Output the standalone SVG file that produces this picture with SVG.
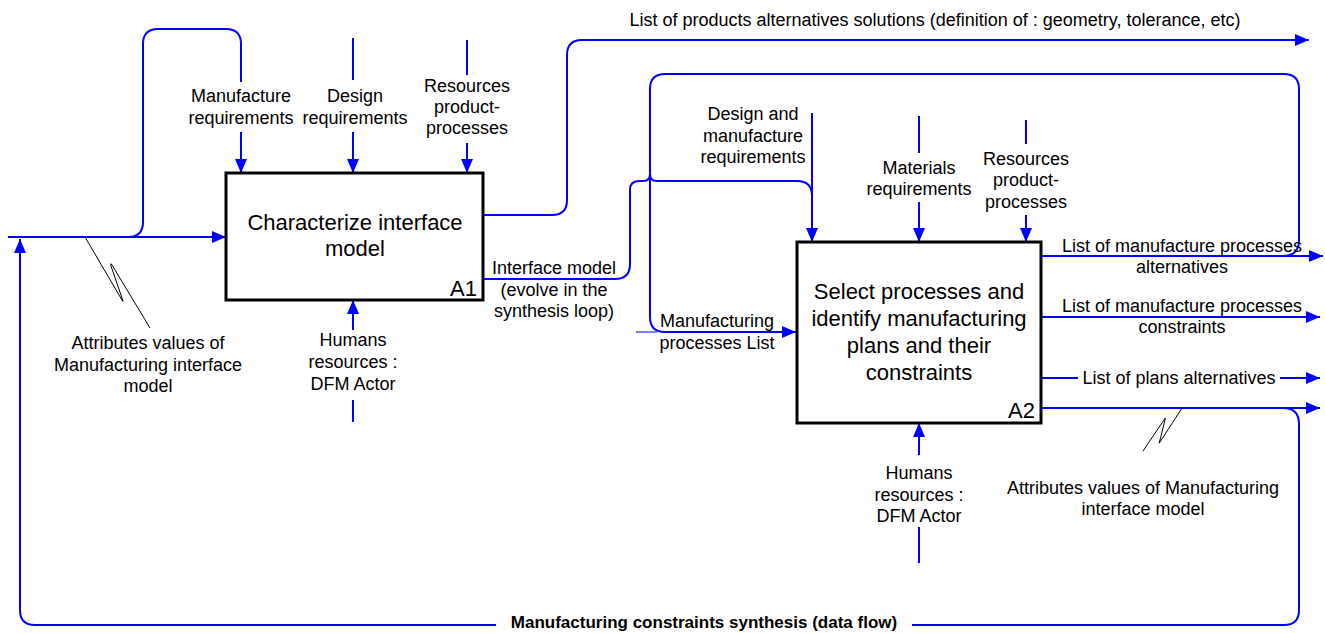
<svg xmlns="http://www.w3.org/2000/svg" width="1325" height="633" viewBox="0 0 1325 633">
<style>
.box{fill:#fff;stroke:#000;stroke-width:3}
.ln{fill:none;stroke:#0000ff;stroke-width:2}
.thin{fill:none;stroke:#0000ff;stroke-width:1}
.sq{fill:none;stroke:#000;stroke-width:1}
text{font-family:"Liberation Sans",Arial,sans-serif;fill:#000}
.lb{font-size:18px;text-anchor:middle}
.bt{font-size:22px;text-anchor:middle}
.id{font-size:22px;text-anchor:end}
.bold{font-size:17px;font-weight:bold;text-anchor:middle}
</style>
<defs>
<marker id="arr" viewBox="0 0 14 12" refX="14" refY="6" markerWidth="14" markerHeight="12" markerUnits="userSpaceOnUse" orient="auto">
<path d="M0,0 L14,6 L0,12 z" fill="#0000ff"/>
</marker>
</defs>
<rect width="1325" height="633" fill="#fff"/>
<g id="connectors">
<path class="ln" d="M8,237 H226" marker-end="url(#arr)"/>
<path class="ln" d="M120,237 H128 Q143,237 143,222 V44 Q143,29 158,29 H226 Q241,29 241,44 V82"/>
<path class="ln" d="M241,132 V173" marker-end="url(#arr)"/>
<path class="ln" d="M353,38 V80"/>
<path class="ln" d="M353,132 V173" marker-end="url(#arr)"/>
<path class="ln" d="M467,40 V75"/>
<path class="ln" d="M467,143 V173" marker-end="url(#arr)"/>
<path class="ln" d="M353,330 V300" marker-end="url(#arr)"/>
<path class="ln" d="M353,400 V422"/>
<path class="ln" d="M483,215 H552 Q567,215 567,200 V55 Q567,40 582,40 H1309" marker-end="url(#arr)"/>
<path class="ln" d="M483,279 H615 Q630,279 630,264 V190 Q630,181 639,181 H643 Q650,181 650,174 Q650,181 657,181 H797 Q812,181 812,196 V215"/>
<path class="ln" d="M1283,256 Q1299,256 1299,240 V89 Q1299,74 1284,74 H665 Q650,74 650,89 V317 Q650,332 665,332 H796" marker-end="url(#arr)"/>
<path class="thin" d="M636,332 H657"/>
<path class="ln" d="M812,113 V242" marker-end="url(#arr)"/>
<path class="ln" d="M919,116 V153"/>
<path class="ln" d="M919,202 V242" marker-end="url(#arr)"/>
<path class="ln" d="M1026,120 V144"/>
<path class="ln" d="M1026,215 V242" marker-end="url(#arr)"/>
<path class="ln" d="M919,455 V423" marker-end="url(#arr)"/>
<path class="ln" d="M919,527 V563"/>
<path class="ln" d="M1041,256 H1323" marker-end="url(#arr)"/>
<path class="ln" d="M1041,317 H1320" marker-end="url(#arr)"/>
<path class="ln" d="M1041,378 H1078"/>
<path class="ln" d="M1280,378 H1320" marker-end="url(#arr)"/>
<path class="ln" d="M1041,408 H1320" marker-end="url(#arr)"/>
<path class="ln" d="M1283,408 Q1299,408 1299,424 V610 Q1299,625 1284,625 H35 Q20,625 20,610 V239" marker-end="url(#arr)"/>
<path class="sq" d="M85,237 L122,300 Q124,304 122,298 L111,266 Q110,262 112,265 L150,328"/>
<path class="sq" d="M1182,408 L1160,442 Q1158,445 1160,440 L1165,420 Q1166,416 1164,420 L1143,451"/>
</g>
<g id="A1">
<rect class="box" x="226" y="173" width="257" height="127"/>
<text class="bt" x="355" y="230">Characterize interface</text>
<text class="bt" x="355" y="256">model</text>
<text class="id" x="477" y="296">A1</text>
</g>
<g id="A2">
<rect class="box" x="797" y="242" width="244" height="181"/>
<text class="bt" x="919" y="299">Select processes and</text>
<text class="bt" x="919" y="326">identify manufacturing</text>
<text class="bt" x="919" y="353">plans and their</text>
<text class="bt" x="919" y="380">constraints</text>
<text class="id" x="1035" y="418">A2</text>
</g>
<g id="labels">
<text class="lb" x="935" y="26">List of products alternatives solutions (definition of : geometry, tolerance, etc)</text>
<text class="lb" x="241" y="102">Manufacture</text>
<text class="lb" x="241" y="124">requirements</text>
<text class="lb" x="355" y="102">Design</text>
<text class="lb" x="355" y="124">requirements</text>
<text class="lb" x="467" y="92">Resources</text>
<text class="lb" x="467" y="113">product-</text>
<text class="lb" x="467" y="134">processes</text>
<text class="lb" x="353" y="346">Humans</text>
<text class="lb" x="353" y="368">resources :</text>
<text class="lb" x="353" y="390">DFM Actor</text>
<text class="lb" x="148" y="349">Attributes values of</text>
<text class="lb" x="148" y="371">Manufacturing interface</text>
<text class="lb" x="148" y="392">model</text>
<text class="lb" x="554" y="274">Interface model</text>
<text class="lb" x="554" y="296">(evolve in the</text>
<text class="lb" x="554" y="317">synthesis loop)</text>
<text class="lb" x="753" y="120">Design and</text>
<text class="lb" x="753" y="142">manufacture</text>
<text class="lb" x="753" y="163">requirements</text>
<text class="lb" x="919" y="174">Materials</text>
<text class="lb" x="919" y="195">requirements</text>
<text class="lb" x="1026" y="165">Resources</text>
<text class="lb" x="1026" y="186">product-</text>
<text class="lb" x="1026" y="208">processes</text>
<text class="lb" x="717" y="327">Manufacturing</text>
<text class="lb" x="717" y="349">processes List</text>
<text class="lb" x="1182" y="252">List of manufacture processes</text>
<text class="lb" x="1182" y="273">alternatives</text>
<text class="lb" x="1182" y="312">List of manufacture processes</text>
<text class="lb" x="1182" y="333">constraints</text>
<text class="lb" x="1179" y="384">List of plans alternatives</text>
<text class="lb" x="919" y="479">Humans</text>
<text class="lb" x="919" y="501">resources :</text>
<text class="lb" x="919" y="522">DFM Actor</text>
<text class="lb" x="1143" y="494">Attributes values of Manufacturing</text>
<text class="lb" x="1143" y="515">interface model</text>
<rect x="496" y="615" width="416" height="18" fill="#fff"/>
<text class="bold" x="704" y="628">Manufacturing constraints synthesis (data flow)</text>
</g>
</svg>
